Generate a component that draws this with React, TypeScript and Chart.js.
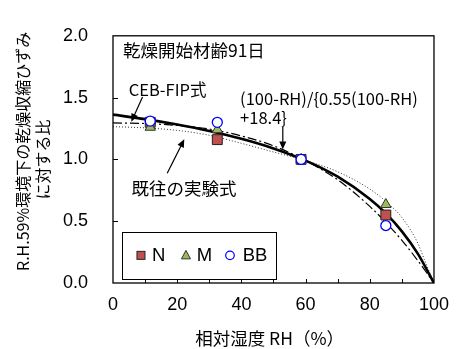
import React, { useEffect, useRef } from "react";
import { Chart, registerables } from "chart.js";

Chart.register(...registerables);

// ---- data ----
const RH_CURVE = [0, 10, 20, 30, 40, 50, 60, 70, 80, 85, 90, 95, 100];
const FORMULA_CURVE = [1.362, 1.326, 1.282, 1.23, 1.167, 1.089, 0.99, 0.86, 0.68, 0.563, 0.418, 0.236, 0];
const CEB_FIP_CURVE = [1.295, 1.29, 1.275, 1.245, 1.19, 1.11, 0.99, 0.835, 0.62, 0.49, 0.345, 0.18, 0];
const RH_EXP_CURVE = [0, 10, 20, 30, 40, 50, 60, 70, 80, 85, 90, 95, 97, 100];
const EXP_CURVE = [1.265, 1.255, 1.235, 1.195, 1.13, 1.06, 0.99, 0.9, 0.76, 0.66, 0.53, 0.32, 0.19, 0];

const RH_MEASURED = [11.6, 32.5, 58.6, 85];
const N_VALUES = [1.3, 1.16, 1.0, 0.55];
const M_VALUES = [1.26, 1.24, 1.0, 0.635];
const BB_VALUES = [1.31, 1.3, 1.0, 0.465];

const SERIES_NAMES = ["N", "M", "BB"];
const X_TICKS = [0, 20, 40, 60, 80, 100];
const Y_TICKS = [0, 0.5, 1.0, 1.5, 2.0];

const X_TITLE = "相対湿度 RH（%）  ";
const Y_TITLE = ["　R.H.59%環境下の乾燥収縮ひずみ", "に対する比"];
const NOTE_AGE = "乾燥開始材齢91日";
const NOTE_CEB = "CEB-FIP式";
const NOTE_FORMULA = ["(100-RH)/{0.55(100-RH)", "+18.4}"];
const NOTE_EXP = "既往の実験式";

const CJK = '"Noto Sans CJK JP", "Noto Sans", sans-serif';
const LATIN = '"Liberation Sans", Arial, sans-serif';

const toPts = (xs: number[], ys: number[]) => xs.map((x, i) => ({ x, y: ys[i] }));

function arrow(ctx: CanvasRenderingContext2D, x1: number, y1: number, x2: number, y2: number) {
  const ang = Math.atan2(y2 - y1, x2 - x1);
  const hl = 8;
  const hw = 3.5;
  ctx.save();
  ctx.strokeStyle = "#000";
  ctx.fillStyle = "#000";
  ctx.lineWidth = 1.2;
  ctx.beginPath();
  ctx.moveTo(x1, y1);
  ctx.lineTo(x2 - Math.cos(ang) * hl * 0.8, y2 - Math.sin(ang) * hl * 0.8);
  ctx.stroke();
  ctx.beginPath();
  ctx.moveTo(x2, y2);
  ctx.lineTo(x2 - Math.cos(ang) * hl + Math.sin(ang) * hw, y2 - Math.sin(ang) * hl - Math.cos(ang) * hw);
  ctx.lineTo(x2 - Math.cos(ang) * hl - Math.sin(ang) * hw, y2 - Math.sin(ang) * hl + Math.cos(ang) * hw);
  ctx.closePath();
  ctx.fill();
  ctx.restore();
}

const overlayPlugin = {
  id: "overlay",
  afterDraw(chart: any) {
    const ctx: CanvasRenderingContext2D = chart.ctx;
    const xs = chart.scales.x;
    const ys = chart.scales.y;
    const { left, right, top, bottom } = chart.chartArea;
    const px = (v: number) => xs.getPixelForValue(v);
    const py = (v: number) => ys.getPixelForValue(v);

    ctx.save();
    // frame
    ctx.strokeStyle = "#000";
    ctx.lineWidth = 1.3;
    ctx.strokeRect(left, top, right - left, bottom - top);
    // inward ticks
    ctx.lineWidth = 1;
    ctx.beginPath();
    for (let v = 10; v < 100; v += 10) {
      const x = Math.round(px(v)) + 0.5;
      ctx.moveTo(x, bottom);
      ctx.lineTo(x, bottom - 4);
    }
    for (const v of Y_TICKS) {
      if (v === 0 || v === 2) continue;
      const y = Math.round(py(v)) + 0.5;
      ctx.moveTo(left, y);
      ctx.lineTo(left + 5, y);
    }
    ctx.stroke();

    // annotations
    ctx.fillStyle = "#000";
    ctx.textBaseline = "middle";
    ctx.textAlign = "left";
    ctx.font = `17.5px ${CJK}`;
    ctx.fillText(NOTE_AGE, px(3.1), py(1.88));
    ctx.font = `16.5px ${CJK}`;
    ctx.fillText(NOTE_CEB, px(4.9), py(1.565));
    ctx.fillText(NOTE_FORMULA[0], px(39.6), py(1.49));
    ctx.fillText(NOTE_FORMULA[1], px(39.6), py(1.34));
    ctx.font = `17.5px ${CJK}`;
    ctx.fillText(NOTE_EXP, px(5.75), py(0.763));

    arrow(ctx, px(9.2), py(1.504), px(5.7), py(1.305));
    arrow(ctx, px(52.9), py(1.264), px(52.9), py(1.08));
    arrow(ctx, px(16.9), py(0.888), px(22.2), py(1.163));

    // legend box
    const bx = px(2.7);
    const by = py(0.413);
    const bw = 154;
    const bh = 47;
    ctx.fillStyle = "#fff";
    ctx.fillRect(bx, by, bw, bh);
    ctx.strokeStyle = "#000";
    ctx.lineWidth = 1;
    ctx.strokeRect(Math.round(bx) + 0.5, Math.round(by) + 0.5, bw, bh);
    const cy = by + 23.4;
    // N square
    ctx.fillStyle = "#c0504d";
    ctx.fillRect(bx + 15.3, cy - 4, 8, 8);
    ctx.strokeStyle = "#222";
    ctx.strokeRect(bx + 15.3, cy - 4, 8, 8);
    // M triangle
    ctx.beginPath();
    ctx.moveTo(bx + 64.3, cy - 5);
    ctx.lineTo(bx + 68.8, cy + 3.5);
    ctx.lineTo(bx + 59.8, cy + 3.5);
    ctx.closePath();
    ctx.fillStyle = "#9bbb59";
    ctx.fill();
    ctx.strokeStyle = "#333";
    ctx.stroke();
    // BB circle
    ctx.beginPath();
    ctx.arc(bx + 108.3, cy, 4.3, 0, Math.PI * 2);
    ctx.fillStyle = "#fff";
    ctx.fill();
    ctx.strokeStyle = "#0000ff";
    ctx.lineWidth = 1.2;
    ctx.stroke();
    ctx.fillStyle = "#000";
    ctx.font = `18.5px ${LATIN}`;
    ctx.textBaseline = "middle";
    ctx.fillText(SERIES_NAMES[0], bx + 30.3, cy + 1);
    ctx.fillText(SERIES_NAMES[1], bx + 75, cy + 1);
    ctx.fillText(SERIES_NAMES[2], bx + 121, cy + 1);
    ctx.restore();
  },
};

export default function App() {
  const ref = useRef<HTMLCanvasElement | null>(null);
  useEffect(() => {
    if (!ref.current) return;
    const lineBase = {
      showLine: true,
      pointRadius: 0,
      pointHoverRadius: 0,
      borderColor: "#000",
      backgroundColor: "#000",
      tension: 0.4,
      cubicInterpolationMode: "monotone" as const,
      fill: false,
    };
    const chart = new Chart(ref.current, {
      type: "scatter",
      data: {
        datasets: [
          {
            label: SERIES_NAMES[2],
            data: toPts(RH_MEASURED, BB_VALUES),
            pointStyle: "circle",
            pointRadius: 5,
            backgroundColor: "#fff",
            borderColor: "#0000ff",
            borderWidth: 1.3,
            order: 0,
          },
          {
            label: SERIES_NAMES[1],
            data: toPts(RH_MEASURED, M_VALUES),
            pointStyle: "triangle",
            pointRadius: 6,
            backgroundColor: "#9bbb59",
            borderColor: "#333",
            borderWidth: 1,
            order: 1,
          },
          {
            label: SERIES_NAMES[0],
            data: toPts(RH_MEASURED, N_VALUES),
            pointStyle: "rect",
            pointRadius: 7,
            backgroundColor: "#c0504d",
            borderColor: "#222",
            borderWidth: 1,
            order: 2,
          },
          {
            ...lineBase,
            label: "formula",
            data: toPts(RH_CURVE, FORMULA_CURVE),
            borderWidth: 2.6,
            order: 3,
          },
          {
            ...lineBase,
            label: "CEB-FIP",
            data: toPts(RH_CURVE, CEB_FIP_CURVE),
            borderWidth: 1.2,
            borderDash: [9, 3, 2, 3],
            order: 4,
          },
          {
            ...lineBase,
            label: "exp",
            data: toPts(RH_EXP_CURVE, EXP_CURVE),
            borderWidth: 1,
            borderColor: "#333",
            borderDash: [1, 2],
            order: 5,
          },
        ],
      },
      options: {
        animation: false,
        responsive: false,
        events: [],
        layout: { padding: { top: 17, right: 22, left: 0, bottom: 0 } },
        plugins: { legend: { display: false }, tooltip: { enabled: false } },
        scales: {
          x: {
            type: "linear",
            min: 0,
            max: 100,
            afterBuildTicks: (s: any) => {
              s.ticks = X_TICKS.map((v) => ({ value: v }));
            },
            afterFit: (s: any) => {
              s.height = 66;
            },
            grid: { display: false, drawTicks: false },
            border: { display: false },
            ticks: {
              color: "#000",
              font: { family: LATIN, size: 18 },
              padding: 11,
              maxRotation: 0,
            },
            title: {
              display: true,
              text: X_TITLE,
              color: "#000",
              font: { family: CJK, size: 17.5 },
              padding: { top: 0, bottom: 0 },
            },
          },
          y: {
            type: "linear",
            min: 0,
            max: 2,
            afterBuildTicks: (s: any) => {
              s.ticks = Y_TICKS.map((v) => ({ value: v }));
            },
            afterFit: (s: any) => {
              s.width = 113;
            },
            grid: { display: false, drawTicks: false },
            border: { display: false },
            ticks: {
              color: "#000",
              font: { family: LATIN, size: 18 },
              padding: 25,
              callback: (v: any) => Number(v).toFixed(1),
            },
            title: {
              display: true,
              text: Y_TITLE,
              color: "#000",
              font: { family: CJK, size: 16, lineHeight: 1.25 },
              padding: { top: 13, bottom: 0 },
            },
          },
        },
      },
      plugins: [overlayPlugin],
    });
    return () => chart.destroy();
  }, []);
  return (
    <div style={{ position: "fixed", left: 0, top: 0, width: 460, height: 349, background: "#fff" }}>
      <canvas ref={ref} width={460} height={349} />
    </div>
  );
}
